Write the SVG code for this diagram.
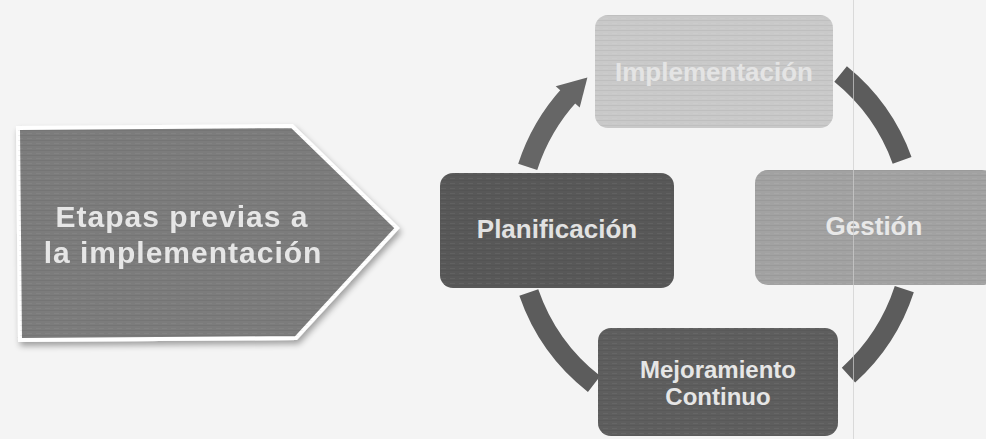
<svg xmlns="http://www.w3.org/2000/svg" width="986" height="439" viewBox="0 0 986 439">
<defs>
<pattern id="streak" width="9" height="5" patternUnits="userSpaceOnUse">
<rect x="0" y="0" width="9" height="1" fill="#000" opacity="0.05"/>
<rect x="0" y="3" width="5" height="1" fill="#fff" opacity="0.05"/>
</pattern>
<filter id="shadow" x="-10%" y="-10%" width="125%" height="130%">
<feGaussianBlur in="SourceAlpha" stdDeviation="3"/>
<feOffset dx="2" dy="4" result="b"/>
<feComponentTransfer><feFuncA type="linear" slope="0.35"/></feComponentTransfer>
<feMerge><feMergeNode/><feMergeNode in="SourceGraphic"/></feMerge>
</filter>
</defs>
<style>
.lbl{font-family:"Liberation Sans",Arial,sans-serif;font-weight:bold;text-anchor:middle;}
.ring{fill:none;stroke:#5c5c5c;stroke-width:20;stroke-linecap:butt;}
.box{stroke:none;}
</style>
<rect width="986" height="439" fill="#f4f4f4"/>

<g id="connectors">
<path class="ring" d="M840.6,74.1 A198,198 0 0 1 902.1,160.3"/>
<path class="ring" d="M904.3,289.2 A198,198 0 0 1 848.5,375.1"/>
<path class="ring" d="M594.1,384 A198,198 0 0 1 528.8,292.5"/>
<path class="ring" d="M527.7,166.8 A198,198 0 0 1 570,94.2" style="stroke:#666"/>
<polygon points="579.7,107.4 555.7,86.2 587.4,77.4" fill="#666"/>
</g>

<g id="etapas" filter="url(#shadow)">
<polygon points="18,128 292,126 397,228 296,338 20,340" fill="#7b7b7b" stroke="#ffffff" stroke-width="4" stroke-linejoin="miter"/>
<polygon points="18,128 292,126 397,228 296,338 20,340" fill="url(#streak)"/>
<text class="lbl" x="182" y="227" font-size="30" letter-spacing="1" fill="#e6e6e6">Etapas previas a</text>
<text class="lbl" x="183" y="263" font-size="30" letter-spacing="1" fill="#e6e6e6">la implementación</text>
</g>

<g id="implementacion">
<rect class="box" x="595" y="15" width="238" height="113" rx="13" fill="#c9c9c9"/>
<rect x="595" y="15" width="238" height="113" rx="13" fill="url(#streak)"/>
<text class="lbl" x="714" y="81" font-size="26" fill="#e4e4e4">Implementación</text>
</g>

<g id="planificacion">
<rect class="box" x="440" y="173" width="234" height="115" rx="13" fill="#585858"/>
<rect x="440" y="173" width="234" height="115" rx="13" fill="url(#streak)"/>
<text class="lbl" x="557" y="238" font-size="26" fill="#e2e2e2">Planificación</text>
</g>

<g id="gestion">
<rect class="box" x="755" y="170" width="240" height="115" rx="13" fill="#a2a2a2"/>
<rect x="755" y="170" width="240" height="115" rx="13" fill="url(#streak)"/>
<text class="lbl" x="874" y="235" font-size="26" fill="#e8e8e8">Gestión</text>
</g>

<g id="mejoramiento">
<rect class="box" x="598" y="328" width="240" height="108" rx="13" fill="#5e5e5e"/>
<rect x="598" y="328" width="240" height="108" rx="13" fill="url(#streak)"/>
<text class="lbl" x="718" y="378" font-size="24" fill="#e6e6e6">Mejoramiento</text>
<text class="lbl" x="718" y="405" font-size="24" fill="#e6e6e6">Continuo</text>
</g>

<line x1="853.5" y1="0" x2="853.5" y2="439" stroke="#cfcfcf" stroke-width="1" opacity="0.7"/>
</svg>
